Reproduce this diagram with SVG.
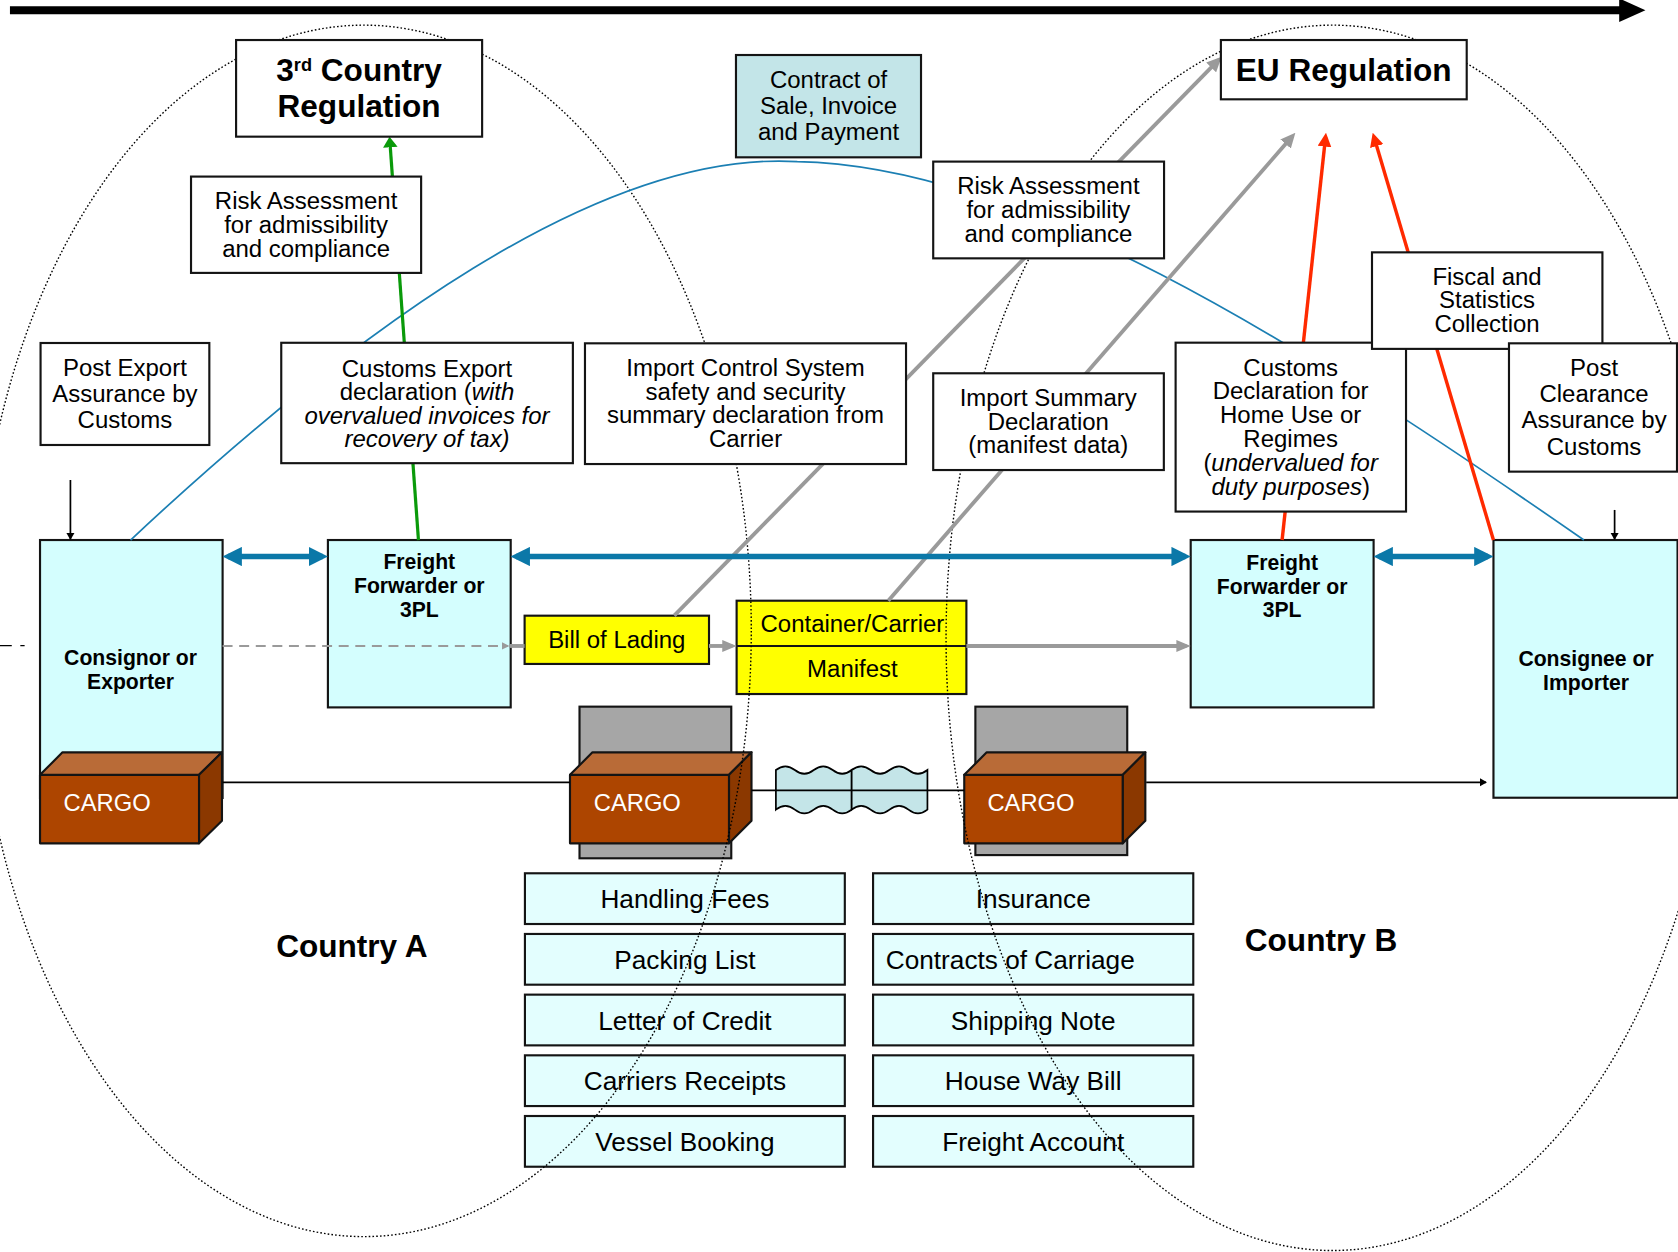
<svg xmlns="http://www.w3.org/2000/svg" width="1678" height="1252" viewBox="0 0 1678 1252">
<defs>
<style>
text { font-family: "Liberation Sans", Arial, sans-serif; fill: #000; }
.box { fill: #fff; stroke: #141414; stroke-width: 2; }
.cyan { fill: #d4fefe; stroke: #141414; stroke-width: 2; }
.list { fill: #e3fefe; stroke: #141414; stroke-width: 2; }
.yel { fill: #ffff00; stroke: #141414; stroke-width: 2; }
.teal { fill: #c3e5e8; stroke: #141414; stroke-width: 2; }
.t { font-size: 22.4px; text-anchor: middle; }
.lt { font-size: 24.5px; text-anchor: middle; }
.tb { font-size: 19.8px; font-weight: bold; text-anchor: middle; }
.ttl { font-size: 29.5px; font-weight: bold; text-anchor: middle; }
.cg { font-size: 22.2px; fill: #fff; }
.it { font-style: italic; }
.front { fill: #ad4500; stroke: #141414; stroke-width: 2; stroke-linejoin: round; }
.ctop { fill: #b96b37; stroke: #141414; stroke-width: 2; stroke-linejoin: round; }
.side { fill: #8b3800; stroke: #141414; stroke-width: 2; stroke-linejoin: round; }
.ship { fill: #a6a6a6; stroke: #141414; stroke-width: 2; }
.wave { fill: #c4e5e8; stroke: #000; stroke-width: 1.6; }
.dots { fill: none; stroke: #000; stroke-width: 1.3; stroke-dasharray: 1.5 2; }
.curve { fill: none; stroke: #1b7fb3; stroke-width: 1.6; }
.bl { fill: none; stroke: #0b78a8; stroke-width: 5; marker-start: url(#mBlue); marker-end: url(#mBlue); }
.gr { fill: none; stroke: #9a9a9a; stroke-width: 3.6; }
.rd { fill: none; stroke: #ff2a00; stroke-width: 3.2; marker-end: url(#mRed); }
.gn { fill: none; stroke: #0a9a0a; stroke-width: 3; marker-end: url(#mGreen); }
.blk { fill: none; stroke: #000; stroke-width: 1.6; }
</style>
<marker id="mBlue" markerUnits="userSpaceOnUse" markerWidth="18" markerHeight="18" refX="13" refY="9" orient="auto-start-reverse"><path d="M0,0 L18,9 L0,18 z" fill="#0b78a8"/></marker>
<marker id="mGreen" markerUnits="userSpaceOnUse" markerWidth="10" markerHeight="14" refX="7" refY="6.8" orient="auto"><path d="M0,0 L10,6.8 L0,13.6 z" fill="#0a9a0a"/></marker>
<marker id="mGray" markerUnits="userSpaceOnUse" markerWidth="14" markerHeight="13" refX="10" refY="6.5" orient="auto"><path d="M0,0 L14,6.5 L0,13 z" fill="#9a9a9a"/></marker>
<marker id="mGrayS" markerUnits="userSpaceOnUse" markerWidth="14" markerHeight="12" refX="9.4" refY="5.6" orient="auto"><path d="M0,0 L13.4,5.6 L0,11.2 z" fill="#9a9a9a"/></marker>
<marker id="mGrayD" markerUnits="userSpaceOnUse" markerWidth="8" markerHeight="7" refX="5.7" refY="3.5" orient="auto"><path d="M0,0 L7.2,3.5 L0,7 z" fill="#9a9a9a"/></marker>
<marker id="mRed" markerUnits="userSpaceOnUse" markerWidth="13" markerHeight="13" refX="9" refY="6.4" orient="auto"><path d="M0,0 L13,6.4 L0,12.8 z" fill="#ff2a00"/></marker>
<marker id="mBlack" markerUnits="userSpaceOnUse" markerWidth="7" markerHeight="8" refX="6" refY="4" orient="auto"><path d="M0,0 L7,4 L0,8 z" fill="#000"/></marker>
</defs>
<rect x="0" y="0" width="1678" height="1252" fill="#fff"/>
<g transform="scale(1.0702)">

<g id="timeline">
<line x1="9.3" y1="9.5" x2="1516" y2="9.5" stroke="#000" stroke-width="7.5"/>
<polygon points="1513,-1.5 1537.5,9.5 1513,20.5" fill="#000"/>
</g>

<g id="consignor"><rect class="cyan" x="37.4" y="504.6" width="170.6" height="241"/>
<text class="tb"><tspan x="122" y="621.4">Consignor or</tspan><tspan x="122" y="644">Exporter</tspan></text></g>
<g id="ff-a"><rect class="cyan" x="306.4" y="504.6" width="170.8" height="156.4"/>
<text class="tb"><tspan x="391.8" y="532">Freight</tspan><tspan x="391.8" y="554.5">Forwarder or</tspan><tspan x="391.8" y="576.8">3PL</tspan></text></g>
<g id="ff-b"><rect class="cyan" x="1112.6" y="504.6" width="170.9" height="156.4"/>
<text class="tb"><tspan x="1198" y="532.6">Freight</tspan><tspan x="1198" y="555">Forwarder or</tspan><tspan x="1198" y="576.8">3PL</tspan></text></g>
<g id="consignee"><rect class="cyan" x="1395.5" y="504.6" width="172" height="240.8"/>
<text class="tb"><tspan x="1482" y="622">Consignee or</tspan><tspan x="1482" y="644.7">Importer</tspan></text></g>

<g id="cargo-a">
<rect class="front" x="37.4" y="724" width="148.6" height="64"/>
<polygon class="ctop" points="37.4,724 58.4,703 207.4,703 186,724"/>
<polygon class="side" points="186,724 207.4,703 207.4,767 186,788"/>
<text class="cg" x="59.4" y="758">CARGO</text>
</g>
<g id="cargo-ship-a">
<rect class="ship" x="541.5" y="660.3" width="141.8" height="141.7"/>
<rect class="front" x="532.6" y="724" width="148.6" height="64"/>
<polygon class="ctop" points="532.6,724 553.6,703 702.2,703 681.2,724"/>
<polygon class="side" points="681.2,724 702.2,703 702.2,767 681.2,788"/>
<text class="cg" x="554.8" y="758">CARGO</text>
</g>
<g id="cargo-ship-b">
<rect class="ship" x="911.4" y="660.3" width="141.9" height="138.7"/>
<rect class="front" x="901" y="724" width="148.2" height="64"/>
<polygon class="ctop" points="901,724 922,703 1070.2,703 1049.2,724"/>
<polygon class="side" points="1049.2,724 1070.2,703 1070.2,767 1049.2,788"/>
<text class="cg" x="922.7" y="758">CARGO</text>
</g>
<g id="sea">
<path class="wave" d="M725,719.5 q8.85,-7 17.7,0 t17.7,0 t17.7,0 t17.7,0 L795.8,756.5 q-8.85,7 -17.7,0 t-17.7,0 t-17.7,0 t-17.7,0 z"/>
<path class="wave" d="M795.8,719.5 q8.85,-7 17.7,0 t17.7,0 t17.7,0 t17.7,0 L866.6,756.5 q-8.85,7 -17.7,0 t-17.7,0 t-17.7,0 t-17.7,0 z"/>
</g>

<g id="bill-of-lading"><rect class="yel" x="490.2" y="575.3" width="172.3" height="45.1"/>
<text class="t" x="576.3" y="605.2">Bill of Lading</text></g>
<g id="container-manifest"><rect class="yel" x="688.3" y="561.3" width="214.7" height="87.2"/>
<line x1="688.3" y1="603.6" x2="903" y2="603.6" stroke="#141414" stroke-width="2"/>
<text class="t"><tspan x="796.5" y="590.2">Container/Carrier</tspan><tspan x="796.5" y="632.3">Manifest</tspan></text></g>

<g id="docs-a">
<rect class="list" x="490.5" y="816" width="298.9" height="47.4"/><text class="lt" x="640" y="848.8">Handling Fees</text>
<rect class="list" x="490.5" y="872.7" width="298.9" height="47.4"/><text class="lt" x="640" y="905.5">Packing List</text>
<rect class="list" x="490.5" y="929.4" width="298.9" height="47.4"/><text class="lt" x="640" y="962.2">Letter of Credit</text>
<rect class="list" x="490.5" y="986.1" width="298.9" height="47.4"/><text class="lt" x="640" y="1018.9">Carriers Receipts</text>
<rect class="list" x="490.5" y="1042.8" width="298.9" height="47.4"/><text class="lt" x="640" y="1075.6">Vessel Booking</text>
</g>
<g id="docs-b">
<rect class="list" x="815.8" y="816" width="299.2" height="47.4"/><text class="lt" x="965.4" y="848.8">Insurance</text>
<rect class="list" x="815.8" y="872.7" width="299.2" height="47.4"/><text class="lt" x="944" y="905.5">Contracts of Carriage</text>
<rect class="list" x="815.8" y="929.4" width="299.2" height="47.4"/><text class="lt" x="965.4" y="962.2">Shipping Note</text>
<rect class="list" x="815.8" y="986.1" width="299.2" height="47.4"/><text class="lt" x="965.4" y="1018.9">House Way Bill</text>
<rect class="list" x="815.8" y="1042.8" width="299.2" height="47.4"/><text class="lt" x="965.4" y="1075.6">Freight Account</text>
</g>

<g id="regions">
<ellipse class="dots" cx="340" cy="589.5" rx="362" ry="566"/>
<ellipse class="dots" cx="1245" cy="596" rx="361" ry="572.5"/>
</g>

<g id="connectors">
<path class="curve" d="M122,504.6 C330,310 560,140 745,151 C950,155 1200,310 1480,504.6"/>
<line class="gn" x1="391" y1="504.6" x2="364.2" y2="130.7"/>
<line class="gr" x1="630" y1="575.3" x2="1138.7" y2="55.9" marker-end="url(#mGray)"/>
<line class="gr" x1="830" y1="561.3" x2="1207.8" y2="127" marker-end="url(#mGray)"/>
<line class="rd" x1="1198" y1="504.6" x2="1238.6" y2="128"/>
<line class="rd" x1="1395.5" y1="504.6" x2="1283.8" y2="127.8"/>
<line class="bl" x1="213" y1="520" x2="301.4" y2="520"/>
<line class="bl" x1="482.2" y1="520" x2="1107.6" y2="520"/>
<line class="bl" x1="1288.5" y1="520" x2="1390.5" y2="520"/>
<line x1="208" y1="603.6" x2="474.5" y2="603.6" stroke="#9a9a9a" stroke-width="2" stroke-dasharray="9.3 6.2" marker-end="url(#mGrayD)"/>
<line class="gr" x1="476" y1="603.6" x2="490.2" y2="603.6"/>
<line class="gr" x1="662.5" y1="603.6" x2="684.3" y2="603.6" marker-end="url(#mGrayS)"/>
<line class="gr" x1="903" y1="603.6" x2="1108.6" y2="603.6" marker-end="url(#mGrayS)"/>
<line class="blk" x1="208" y1="731" x2="532.6" y2="731"/>
<line class="blk" x1="702.2" y1="738.6" x2="901" y2="738.6"/>
<line class="blk" x1="1071" y1="731" x2="1388.5" y2="731" marker-end="url(#mBlack)"/>
<line class="blk" x1="65.8" y1="448.5" x2="65.8" y2="503.6" marker-end="url(#mBlack)"/>
<line class="blk" x1="1508.7" y1="476.5" x2="1508.7" y2="503.6" marker-end="url(#mBlack)"/>
<line x1="0" y1="603.3" x2="25" y2="603.3" stroke="#000" stroke-width="1.3" stroke-dasharray="11 8 4 10"/>
</g>

<g id="third-country-regulation"><rect class="box" x="220.6" y="37.4" width="229.9" height="90.3"/>
<text class="ttl"><tspan x="335.5" y="75.7">3<tspan font-size="17" dy="-9">rd</tspan><tspan dy="9"> Country</tspan></tspan><tspan x="335.5" y="109.5">Regulation</tspan></text></g>
<g id="risk-a"><rect class="box" x="178.5" y="165" width="215" height="90"/>
<text class="t"><tspan x="286" y="195.3">Risk Assessment</tspan><tspan x="286" y="217.8">for admissibility</tspan><tspan x="286" y="240">and compliance</tspan></text></g>
<g id="post-export"><rect class="box" x="37.9" y="320.5" width="157.7" height="95.3"/>
<text class="t"><tspan x="116.7" y="351">Post Export</tspan><tspan x="116.7" y="375.3">Assurance by</tspan><tspan x="116.7" y="400">Customs</tspan></text></g>
<g id="customs-export"><rect class="box" x="262.8" y="320.3" width="272.5" height="112.5"/>
<text class="t"><tspan x="399" y="352">Customs Export</tspan><tspan x="399" y="374">declaration (<tspan class="it">with</tspan></tspan><tspan class="it" x="399" y="396">overvalued invoices for</tspan><tspan class="it" x="399" y="418">recovery of tax)</tspan></text></g>
<g id="import-control"><rect class="box" x="546.6" y="320.8" width="300" height="112.8"/>
<text class="t"><tspan x="696.6" y="351">Import Control System</tspan><tspan x="696.6" y="373.8">safety and security</tspan><tspan x="696.6" y="395.6">summary declaration from</tspan><tspan x="696.6" y="418">Carrier</tspan></text></g>
<g id="contract"><rect class="teal" x="687.7" y="51.4" width="172.9" height="95.6"/>
<text class="t"><tspan x="774.2" y="82.5">Contract of</tspan><tspan x="774.2" y="106.5">Sale, Invoice</tspan><tspan x="774.2" y="130.8">and Payment</tspan></text></g>
<g id="risk-b"><rect class="box" x="872" y="151" width="215.7" height="90.4"/>
<text class="t"><tspan x="979.6" y="181.3">Risk Assessment</tspan><tspan x="979.6" y="204">for admissibility</tspan><tspan x="979.6" y="225.8">and compliance</tspan></text></g>
<g id="import-summary"><rect class="box" x="872" y="348.8" width="215.5" height="90.4"/>
<text class="t"><tspan x="979.5" y="379">Import Summary</tspan><tspan x="979.5" y="401.8">Declaration</tspan><tspan x="979.5" y="423.6">(manifest data)</tspan></text></g>
<g id="eu-regulation"><rect class="box" x="1140.8" y="37.4" width="229.7" height="55.4"/>
<text class="ttl" x="1255.5" y="75.7">EU Regulation</text></g>
<g id="customs-declaration"><rect class="box" x="1098.5" y="320.2" width="215.3" height="157.8"/>
<text class="t"><tspan x="1206" y="351">Customs</tspan><tspan x="1206" y="373.1">Declaration for</tspan><tspan x="1206" y="395.6">Home Use or</tspan><tspan x="1206" y="418">Regimes</tspan><tspan x="1206" y="440.4">(<tspan class="it">undervalued for</tspan></tspan><tspan x="1206" y="462.5"><tspan class="it">duty purposes</tspan>)</tspan></text></g>
<g id="fiscal"><rect class="box" x="1282" y="235.8" width="215.3" height="90.2"/>
<text class="t"><tspan x="1389.5" y="266.3">Fiscal and</tspan><tspan x="1389.5" y="288">Statistics</tspan><tspan x="1389.5" y="310.5">Collection</tspan></text></g>
<g id="post-clearance"><rect class="box" x="1410" y="320.8" width="157" height="119.9"/>
<text class="t"><tspan x="1489.5" y="351">Post</tspan><tspan x="1489.5" y="375.3">Clearance</tspan><tspan x="1489.5" y="400.2">Assurance by</tspan><tspan x="1489.5" y="425.2">Customs</tspan></text></g>

<g id="labels">
<text class="ttl" x="328.8" y="894">Country A</text>
<text class="ttl" x="1234.4" y="888.6">Country B</text>
</g>
</g>
</svg>
